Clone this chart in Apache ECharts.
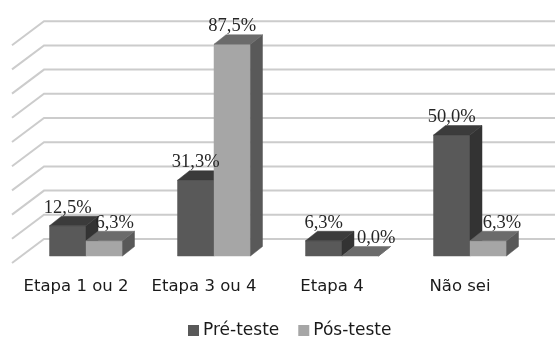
<!DOCTYPE html>
<html>
<head>
<meta charset="utf-8">
<style>html,body{margin:0;padding:0;background:#fff}#chart{width:555px;height:338px}</style>
<script src="https://cdn.jsdelivr.net/npm/echarts@6/dist/echarts.min.js"></script>
</head>
<body>
<div id="chart"></div>
<script>
const categories = ['Etapa 1 ou 2', 'Etapa 3 ou 4', 'Etapa 4', 'Não sei'];
const preTeste = [12.5, 31.3, 6.3, 50.0];
const posTeste = [6.3, 87.5, 0.0, 6.3];
const gridTicks = [0, 10, 20, 30, 40, 50, 60, 70, 80, 90];

// Oblique projection: bars stand part-way back on the floor, walls at the rear.
const wallDepth = { dx: 32, dy: -24 };
const barInset = { dx: 10, dy: -7 };
const barSkew = { dx: 12, dy: -9.5 };
const barShare = 0.285;
const posLabelShift = [10.5, 0, 16, 13.7];

const pct = v => v.toFixed(1).replace('.', ',') + '%';

function poly(points, fill) {
  return { type: 'polygon', shape: { points }, style: { fill, stroke: fill, lineWidth: 0.5 } };
}

function barSeries(name, values, slot, colors, shifts) {
  return {
    name,
    type: 'custom',
    coordinateSystem: 'cartesian2d',
    clip: false,
    z: 3,
    itemStyle: { color: colors.front },
    data: values.map((v, i) => [i, v]),
    encode: { x: 0, y: 1 },
    renderItem(params, api) {
      const idx = api.value(0), val = api.value(1);
      const base = api.coord([idx, 0]);
      const top = api.coord([idx, val]);
      const w = api.size([1, 0])[0] * barShare;
      const x0 = base[0] + barInset.dx + (slot === 0 ? -w : 0);
      const x1 = x0 + w;
      const yb = base[1] + barInset.dy;
      const yt = top[1] + barInset.dy;
      const sx = barSkew.dx, sy = barSkew.dy;
      const children = [
        poly([[x1, yb], [x1 + sx, yb + sy], [x1 + sx, yt + sy], [x1, yt]], colors.side),
        poly([[x0, yt], [x0 + sx, yt + sy], [x1 + sx, yt + sy], [x1, yt]], colors.top)
      ];
      if (val > 0) children.unshift(poly([[x0, yb], [x1, yb], [x1, yt], [x0, yt]], colors.front));
      children.push({
        type: 'text',
        z2: 10,
        style: {
          text: pct(val),
          x: (x0 + x1) / 2 + (shifts ? shifts[idx] : 0),
          y: yt + sy + 1,
          align: 'center',
          verticalAlign: 'bottom',
          fill: '#262626',
          font: '18.5px "Liberation Serif", serif'
        }
      });
      return { type: 'group', children };
    }
  };
}

const wallSeries = {
  name: 'grade',
  type: 'custom',
  coordinateSystem: 'cartesian2d',
  clip: false,
  silent: true,
  z: 1,
  data: gridTicks.map(t => [0, t]),
  encode: { x: 0, y: 1 },
  renderItem(params, api) {
    const rect = params.coordSys;
    const y = api.coord([0, api.value(1)])[1];
    const xFront = rect.x;
    const xBack = rect.x + wallDepth.dx;
    const yBack = y + wallDepth.dy;
    return {
      type: 'polyline',
      shape: { points: [[xFront, y], [xBack, yBack], [555, yBack]] },
      style: { stroke: '#cccccc', lineWidth: 2, fill: null }
    };
  }
};

const chart = echarts.init(document.getElementById('chart'), null, { renderer: 'canvas' });
chart.setOption({
  animation: false,
  backgroundColor: '#ffffff',
  grid: { left: 12, top: 45.2, width: 512, height: 217.8 },
  legend: {
    left: 188,
    top: 322,
    padding: 0,
    icon: 'rect',
    itemWidth: 11,
    itemHeight: 11,
    itemGap: 19,
    data: ['Pré-teste', 'Pós-teste'],
    textStyle: { fontFamily: '"DejaVu Sans", sans-serif', fontSize: 17, color: '#1a1a1a', padding: [0, 0, 0, -1] }
  },
  xAxis: {
    type: 'category',
    data: categories,
    axisLine: { show: false },
    axisTick: { show: false },
    splitLine: { show: false },
    axisLabel: {
      interval: 0,
      margin: 15,
      fontFamily: '"DejaVu Sans", sans-serif',
      fontSize: 16.5,
      color: '#1a1a1a'
    }
  },
  yAxis: { type: 'value', min: 0, max: 90, interval: 10, show: false },
  series: [
    wallSeries,
    barSeries('Pré-teste', preTeste, 0, { front: '#595959', top: '#3b3b3b', side: '#333333' }),
    barSeries('Pós-teste', posTeste, 1, { front: '#a6a6a6', top: '#6b6b6b', side: '#595959' }, posLabelShift)
  ]
});
</script>
</body>
</html>
